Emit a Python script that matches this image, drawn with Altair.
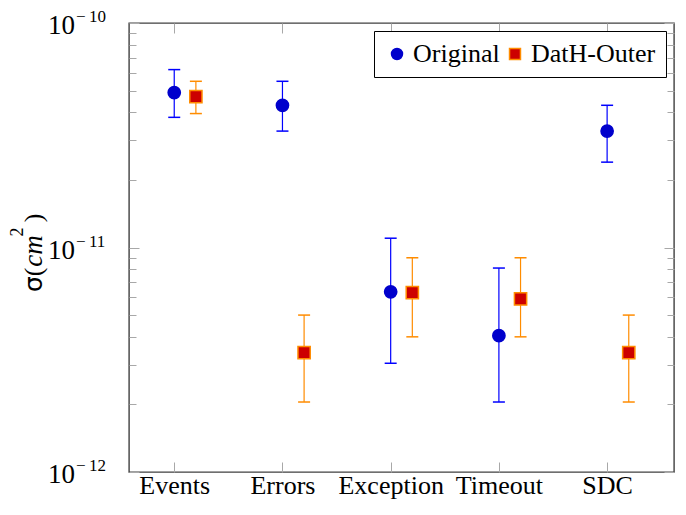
import json
import altair as alt
import pandas as pd

# ---- data ----
categories = ["Events", "Errors", "Exception", "Timeout", "SDC"]
series = ["Original", "DatH-Outer"]
series_offset = [0.0, 0.2]

orig_val = [4.9e-11, 4.3e-11, 6.35e-12, 4.05e-12, 3.3e-11]
orig_hi = [6.2e-11, 5.5e-11, 1.1e-11, 8.1e-12, 4.3e-11]
orig_lo = [3.8e-11, 3.3e-11, 3.05e-12, 2.05e-12, 2.4e-11]

dath_val = [4.7e-11, 3.4e-12, 6.3e-12, 5.9e-12, 3.4e-12]
dath_hi = [5.5e-11, 5.0e-12, 9.0e-12, 9.0e-12, 5.0e-12]
dath_lo = [3.95e-11, 2.05e-12, 4.0e-12, 4.0e-12, 2.05e-12]

major_ticks = [1e-12, 1e-11, 1e-10]
major_exps = ["\u2212\u200912", "\u2212\u200911", "\u2212\u200910"]
minor_ticks = [k * 10.0 ** e for e in (-12, -11) for k in range(2, 10)]

# ---- table ----
rows = []
for s, off, vals, his, los in [
    (series[0], series_offset[0], orig_val, orig_hi, orig_lo),
    (series[1], series_offset[1], dath_val, dath_hi, dath_lo),
]:
    for i, c in enumerate(categories):
        rows.append({"series": s, "cat": c, "pos": i + off,
                     "val": vals[i], "hi": his[i], "lo": los[i]})
df = pd.DataFrame(rows)
ticks_df = pd.DataFrame({"v": major_ticks, "base": ["10"] * 3, "exp": major_exps})
one = pd.DataFrame({"a": [0]})

BLUE_LINE = "#0000ff"
BLUE_FILL = "#0000cc"
ORANGE = "#ff8c00"
RED = "#cc0000"
TICK = "#a8a8a8"
SERIF = "Liberation Serif"

xscale = alt.Scale(domain=[-0.418, 4.618], nice=False, zero=False)
yscale = alt.Scale(type="log", domain=[1e-12, 1e-10], nice=False)

label_expr = json.dumps(categories) + "[round(datum.value)]"

def yaxis(orient, values, size):
    return alt.Axis(orient=orient, values=values, tickSize=size, offset=-size,
                    labels=False, domain=False, grid=False, title=None,
                    tickColor=TICK, tickWidth=1)

x_bottom = alt.Axis(orient="bottom", values=list(range(len(categories))),
                    labelExpr=label_expr, tickSize=10, offset=-10, domain=False,
                    grid=False, title=None, tickColor=TICK, tickWidth=1,
                    labelFont=SERIF, labelFontSize=26, labelColor="black",
                    labelPadding=0)
x_top = alt.Axis(orient="top", values=list(range(len(categories))),
                 labels=False, tickSize=10, offset=-10, domain=False,
                 grid=False, title=None, tickColor=TICK, tickWidth=1)

base = alt.Chart(df)

rules_orig = base.transform_filter(alt.datum.series == series[0]).mark_rule(
    color=BLUE_LINE, strokeWidth=1.2).encode(
    x=alt.X("pos:Q", scale=xscale, axis=x_bottom),
    y=alt.Y("lo:Q", scale=yscale, axis=yaxis("left", major_ticks, 10)),
    y2="hi:Q")

rules_dath = base.transform_filter(alt.datum.series == series[1]).mark_rule(
    color=ORANGE, strokeWidth=1.2).encode(
    x=alt.X("pos:Q", scale=xscale, axis=x_top),
    y=alt.Y("lo:Q", scale=yscale, axis=yaxis("left", minor_ticks, 7)),
    y2="hi:Q")

caps_orig = base.transform_filter(alt.datum.series == series[0]).transform_fold(
    ["lo", "hi"], as_=["k", "b"]).mark_tick(
    orient="horizontal", size=12, thickness=1.5, color=BLUE_LINE, opacity=1).encode(
    x=alt.X("pos:Q", scale=xscale, axis=None),
    y=alt.Y("b:Q", scale=yscale, axis=yaxis("right", major_ticks, 10)))

caps_dath = base.transform_filter(alt.datum.series == series[1]).transform_fold(
    ["lo", "hi"], as_=["k", "b"]).mark_tick(
    orient="horizontal", size=12, thickness=1.5, color=ORANGE, opacity=1).encode(
    x=alt.X("pos:Q", scale=xscale, axis=None),
    y=alt.Y("b:Q", scale=yscale, axis=yaxis("right", minor_ticks, 7)))

leg = alt.Legend(title=None, orient="top-right", direction="horizontal",
                 offset=8, strokeColor="black", fillColor="white", padding=10,
                 labelFont=SERIF, labelFontSize=26, labelColor="black",
                 symbolSize=120, symbolStrokeWidth=1.5, columnPadding=2,
                 symbolOffset=0, labelOffset=3, labelLimit=400, cornerRadius=0)

points = base.mark_point(filled=True, size=150, strokeWidth=1.5, opacity=1).encode(
    x=alt.X("pos:Q", scale=xscale, axis=None),
    y=alt.Y("val:Q", scale=yscale, axis=None),
    fill=alt.Fill("series:N", scale=alt.Scale(domain=series, range=[BLUE_FILL, RED]), legend=leg),
    stroke=alt.Stroke("series:N", scale=alt.Scale(domain=series, range=[BLUE_FILL, ORANGE]), legend=leg),
    shape=alt.Shape("series:N", scale=alt.Scale(domain=series, range=["circle", "square"]), legend=leg),
)

tick_base = alt.Chart(ticks_df).mark_text(
    align="right", baseline="middle", dy=3, font=SERIF, fontSize=27, color="black").encode(
    x=alt.value(-54),
    y=alt.Y("v:Q", scale=yscale, axis=None),
    text="base:N")
tick_exp = alt.Chart(ticks_df).mark_text(
    align="left", baseline="middle", dy=-6, font=SERIF, fontSize=17, color="black").encode(
    x=alt.value(-53),
    y=alt.Y("v:Q", scale=yscale, axis=None),
    text="exp:N")

# y-axis title "σ(cm²)" built from pieces (rotated, reading upward)
def title_piece(txt, xv, yv, size, font=SERIF, style="normal"):
    return alt.Chart(one).mark_text(
        text=txt, angle=270, align="center", baseline="alphabetic",
        font=font, fontSize=size, fontStyle=style, color="black").encode(
        x=alt.value(xv), y=alt.value(yv))

ytitle = [
    title_piece("\u03c3", -87, 261, 25, font="DejaVu Sans"),
    title_piece("(", -87, 249, 26),
    title_piece("cm", -87, 228, 27, style="italic"),
    title_piece("2", -106, 209, 18),
    title_piece(")", -87, 195, 26),
]

chart = alt.layer(
    rules_orig, rules_dath, caps_orig, caps_dath, points, tick_base, tick_exp, *ytitle
).resolve_scale(x="shared", y="shared").resolve_axis(
    x="independent", y="independent"
).properties(
    width=545, height=449,
    autosize=alt.AutoSizeParams(type="none"),
    padding={"left": 121, "top": 15, "right": 2, "bottom": 28},
).configure_view(stroke="#404040", strokeWidth=1.4)

chart.save("out.html", embed_options={"renderer": "svg", "actions": False})
